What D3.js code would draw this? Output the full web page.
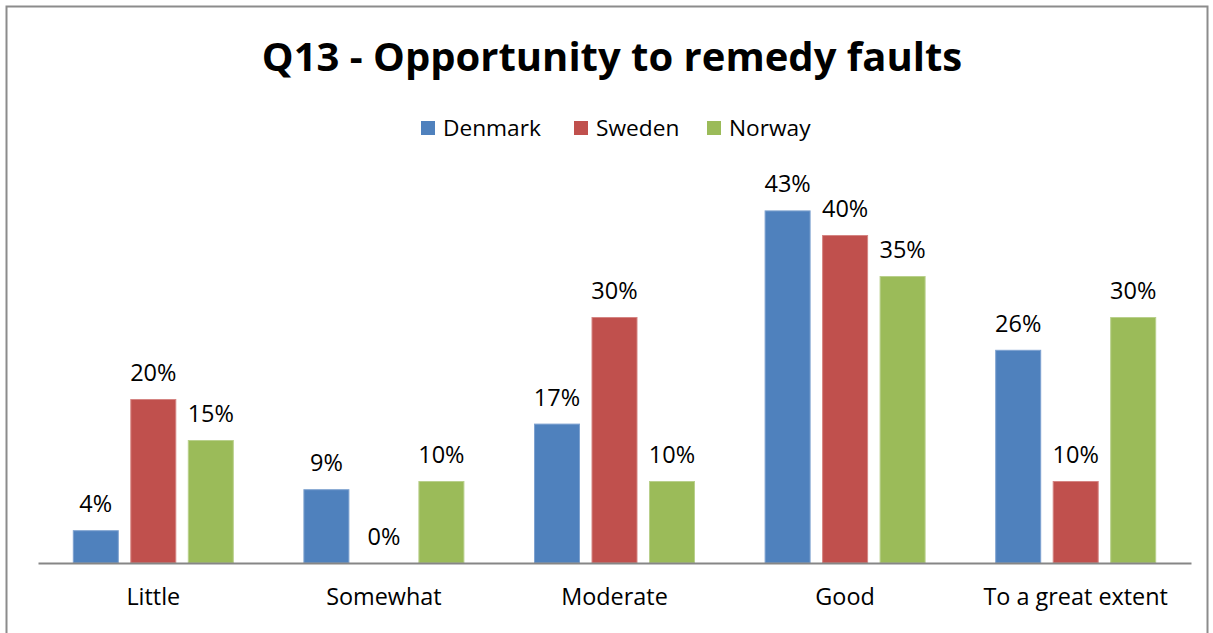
<!DOCTYPE html>
<html>
<head>
<meta charset="utf-8">
<script src="https://cdn.jsdelivr.net/npm/d3@7"></script>
<style>
  html, body { margin: 0; padding: 0; background: #fff; }
  svg { display: block; font-family: "Open Sans", "Liberation Sans", sans-serif; }
</style>
</head>
<body>
<svg id="chart" width="1213" height="633"></svg>
<script>
// Survey answers per country, in percent
const categories = ["Little", "Somewhat", "Moderate", "Good", "To a great extent"];
const seriesNames = ["Denmark", "Sweden", "Norway"];
const denmark = [4, 9, 17, 43, 26];
const sweden  = [20, 0, 30, 40, 10];
const norway  = [15, 10, 10, 35, 30];
const colors = ["#4F81BD", "#C0504D", "#9BBB59"];
const strokes = ["#7EA2D0", "#D58583", "#B9D08C"];

const series = [denmark, sweden, norway];

const svg = d3.select("#chart");

// Outer frame
svg.append("rect")
  .attr("x", 6.5).attr("y", 6.5)
  .attr("width", 1201).attr("height", 640)
  .attr("fill", "#fff").attr("stroke", "#8c8c8c").attr("stroke-width", 2);

// Title
svg.append("text")
  .attr("x", 612).attr("y", 71)
  .attr("text-anchor", "middle")
  .attr("font-size", 40).attr("font-weight", "bold")
  .attr("fill", "#000")
  .text("Q13 - Opportunity to remedy faults");

// Legend
const legendX = [421, 574, 707];
const legend = svg.append("g");
seriesNames.forEach((name, i) => {
  legend.append("rect")
    .attr("x", legendX[i]).attr("y", 121)
    .attr("width", 14).attr("height", 14)
    .attr("fill", colors[i]);
  legend.append("text")
    .attr("x", legendX[i] + 22).attr("y", 136)
    .attr("font-size", 22.7).attr("fill", "#000")
    .text(name);
});

// Scales
const plotLeft = 38, plotRight = 1191, baseY = 563;
const x0 = d3.scaleBand().domain(categories).range([plotLeft, plotRight]).paddingInner(0).paddingOuter(0);
const groupWidth = 161;
const x1 = d3.scaleBand().domain(seriesNames).range([0, groupWidth]).paddingInner(0.2);
const y = d3.scaleLinear().domain([0, 45]).range([baseY, baseY - 45 * 8.2]);

const groups = svg.append("g").selectAll("g")
  .data(categories)
  .join("g")
  .attr("transform", c => `translate(${x0(c) + (x0.bandwidth() - groupWidth) / 2},0)`);

groups.each(function(c, ci) {
  const g = d3.select(this);
  seriesNames.forEach((s, si) => {
    const v = series[si][ci];
    if (v > 0) {
      g.append("rect")
        .attr("x", x1(s) + 0.5)
        .attr("y", y(v) + 0.5)
        .attr("width", x1.bandwidth() - 1)
        .attr("height", y(0) - y(v) - 0.5)
        .attr("fill", colors[si])
        .attr("stroke", strokes[si])
        .attr("stroke-width", 1);
    }
    g.append("text")
      .attr("x", x1(s) + x1.bandwidth() / 2)
      .attr("y", y(v) - 18)
      .attr("text-anchor", "middle")
      .attr("font-size", 23.5)
      .attr("fill", "#000")
      .text(v + "%");
  });
});

// Category axis
const axis = svg.append("g")
  .attr("transform", `translate(0,${baseY})`)
  .call(d3.axisBottom(x0).tickSize(0).tickPadding(25));
axis.select(".domain").attr("stroke", "#868686").attr("stroke-width", 2);
axis.selectAll("text")
  .attr("font-size", 23.4)
  .attr("fill", "#000")
  .attr("font-family", "'Open Sans', 'Liberation Sans', sans-serif");
</script>
</body>
</html>
